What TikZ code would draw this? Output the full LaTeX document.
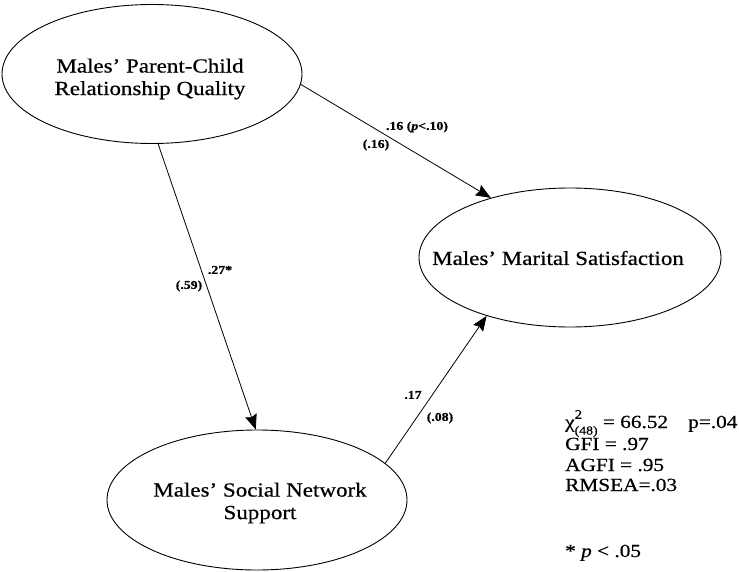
\documentclass[tikz,border=0pt]{standalone}
\usepackage{fontspec}
\setmainfont{Liberation Serif}[FakeStretch=1.15,FakeBold=0.6]
\usetikzlibrary{shapes.geometric,arrows.meta}
\begin{document}
\begin{tikzpicture}[x=1pt,y=-1pt,
  latent/.style={draw,ellipse,line width=0.9pt,inner sep=0pt},
  caption/.style={font=\fontsize{20}{22.5}\selectfont,align=center,inner sep=0pt},
  effect/.style={line width=0.8pt,-{Stealth[length=15pt,width=12pt,inset=2pt]}},
  coef/.style={font=\fontsize{12}{14}\selectfont\bfseries,inner sep=0pt},
  stat/.style={font=\fontsize{18.5}{20}\selectfont,anchor=base west,inner sep=0pt}]
\useasboundingbox (0,0) rectangle (739,572);

% latent constructs
\node[latent,minimum width=300pt,minimum height=139pt] (pc) at (152,74) {};
\node[caption] (pct) at (150,79) {Males’ Parent-Child\\Relationship Quality};
\node[latent,minimum width=302pt,minimum height=139pt] (ms) at (570,257.5) {};
\node[caption] (mst) at (558,258) {Males’ Marital Satisfaction};
\node[latent,minimum width=300pt,minimum height=140pt] (ss) at (257,500) {};
\node[caption] (sst) at (260,503) {Males’ Social Network\\Support};

% structural paths
\draw[effect] (pc.-4.2) -- (ms.143.4);
\draw[effect] (pc.-85) -- (ss.91);
\draw[effect] (ss.16.5) -- (ms.215.6);

% path coefficients
\node[coef] (c1) at (417,127) {.16 (\textit{p}<.10)};
\node[coef] (c1s) at (376,145) {(.16)};
\node[coef] (c2) at (220,270) {.27*};
\node[coef] (c2s) at (189,286) {(.59)};
\node[coef] (c3) at (413,395) {.17};
\node[coef] (c3s) at (440,418) {(.08)};

% fit statistics
\node[stat] (chi) at (565,428) {χ\rlap{\raisebox{0.5em}{\fontsize{13}{13}\selectfont 2}}\raisebox{-0.35em}{\fontsize{12}{12}\selectfont (48)} = 66.52};
\node[stat] (pv) at (688,428) {p=.04};
\node[stat] (gfi) at (565,450) {GFI = .97};
\node[stat] (agfi) at (565,471) {AGFI = .95};
\node[stat] (rmsea) at (565,491) {RMSEA=.03};
\node[stat] (sig) at (565,557) {* \textit{p} < .05};
\end{tikzpicture}
\end{document}
